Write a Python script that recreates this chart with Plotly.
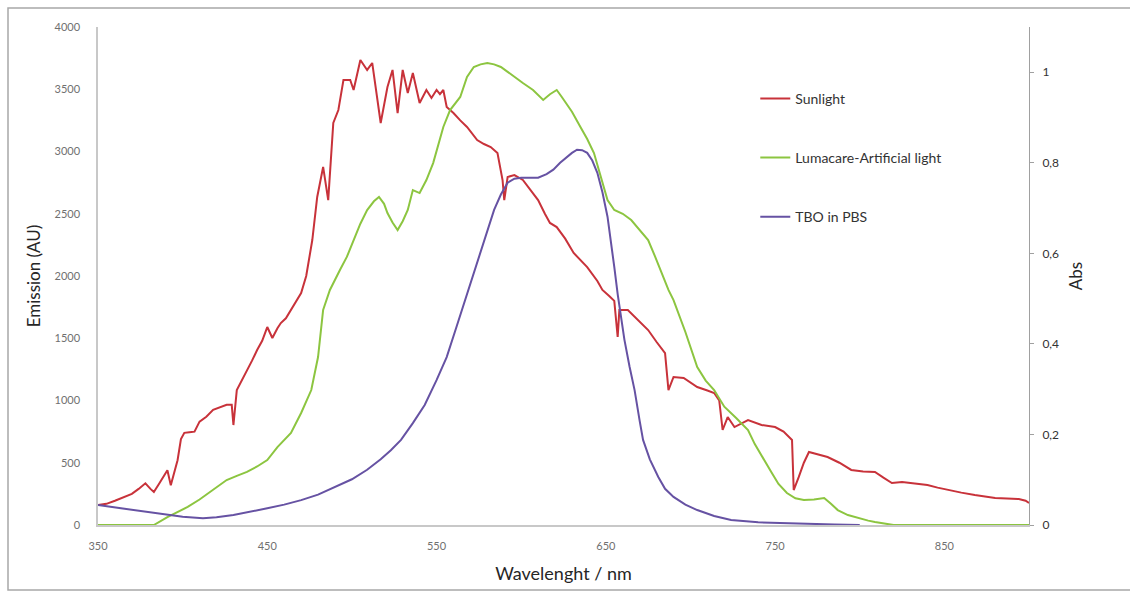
import plotly.graph_objects as go

# ---------------- data ----------------
sun_wl = [350, 355, 360, 365, 370, 374, 378, 381, 383, 386, 389, 391, 393, 395, 397, 399, 401, 404, 407, 410,
          414, 418, 422, 426, 429, 430, 432, 435, 438, 441, 444, 447, 450, 453, 456, 458, 461, 464, 467, 470,
          473, 476.6, 479.5, 483, 486, 489, 492, 495, 499, 501, 505, 509, 512, 517, 521, 524, 527, 530, 533, 536,
          540, 544, 547, 550, 552, 554, 556, 560, 564, 568, 574, 578, 582, 586, 589, 590, 592, 596, 601, 605, 610, 614,
          617, 621, 626, 631, 635, 639, 645, 648, 652, 655, 657, 658, 663, 669, 675, 680, 685, 687, 690, 696,
          704, 710, 714, 717, 719, 722, 726, 734, 742, 750, 755, 760, 761, 764, 767, 770, 775, 781, 788, 795,
          802, 809, 814, 819, 825, 830, 835, 840, 846, 852, 860, 868, 874, 880, 887, 894, 898, 900]
sunlight = [160, 170, 195, 225, 250, 290, 335, 290, 265, 330, 400, 440, 320, 430, 520, 690, 740, 745, 750, 830,
            870, 925, 945, 965, 965, 803, 1084, 1160, 1245, 1320, 1405, 1480, 1590, 1502, 1580, 1622, 1660, 1727, 1790, 1863,
            2000, 2289, 2635, 2876, 2610, 3229, 3333, 3574, 3574, 3494, 3735, 3655, 3711, 3229, 3518, 3655, 3309, 3655, 3470, 3630,
            3390, 3494, 3430, 3494, 3460, 3494, 3357, 3309, 3250, 3197, 3092, 3060, 3036, 2988, 2771, 2610, 2795, 2811, 2771, 2700, 2610, 2500,
            2426, 2393, 2300, 2185, 2130, 2072, 1960, 1888, 1840, 1800, 1510, 1727, 1727, 1650, 1566, 1470, 1381, 1084, 1189, 1181,
            1108, 1080, 1060, 1000, 763, 867, 787, 843, 803, 787, 750, 683, 281, 386, 500, 586, 570, 546, 500, 442,
            430, 426, 380, 337, 345, 337, 330, 321, 300, 281, 260, 241, 230, 217, 212, 209, 195, 177]

luma_wl = [350, 383, 391, 397, 403, 410, 418, 426, 432, 438, 444, 450, 456, 460, 464, 470, 476, 480, 483, 487,
           489, 493, 497, 501, 505, 509, 513, 516, 519, 521, 524, 527, 530, 533, 536, 540, 544, 548, 551, 554,
           558, 564, 568, 572, 576, 580, 584, 588, 592, 596, 601, 607, 613, 617, 621, 624, 630, 635, 639, 643,
           647, 651, 655, 660, 665, 670, 675, 679, 683, 687, 690, 697, 704, 709, 714, 720, 727, 734, 738, 743,
           748, 752, 757, 762, 767, 773, 779, 783, 787, 793, 799, 805, 809, 815, 820, 900]
lumacare = [0, 0, 64, 105, 145, 205, 281, 361, 395, 426, 470, 522, 626, 680, 739, 900, 1084, 1349, 1727, 1888,
            1944, 2050, 2153, 2289, 2420, 2530, 2600, 2635, 2580, 2506, 2430, 2369, 2440, 2530, 2690, 2666, 2771, 2907, 3050, 3197,
            3333, 3438, 3598, 3679, 3700, 3711, 3700, 3679, 3640, 3598, 3550, 3494, 3414, 3460, 3494, 3438, 3320, 3197, 3100, 2988,
            2800, 2610, 2530, 2500, 2450, 2370, 2289, 2160, 2024, 1888, 1807, 1550, 1269, 1160, 1084, 950, 860, 763, 650, 530,
            420, 330, 257, 215, 201, 205, 217, 170, 120, 80, 56, 35, 24, 8, 0, 0]

tbo_wl = [350, 360, 371, 381, 391, 400, 412, 420, 430, 440, 450, 460, 470, 480, 489, 500, 509, 517, 523, 529,
          536, 543, 550, 556, 562, 568, 572, 576, 580, 584, 588, 592, 596, 600, 605, 610, 615, 619, 623, 627,
          630, 633, 636, 639, 642, 645, 648, 651, 653, 655, 657, 659, 661, 664, 667, 670, 672, 676, 681, 685,
          690, 697, 704, 714, 724, 740, 754, 770, 785, 800]
tbo_abs = [0.044, 0.039, 0.033, 0.027, 0.022, 0.018, 0.015, 0.017, 0.022, 0.029, 0.037, 0.045, 0.055, 0.067, 0.082, 0.101, 0.122, 0.145, 0.165, 0.188,
           0.225, 0.265, 0.320, 0.371, 0.440, 0.510, 0.555, 0.601, 0.650, 0.696, 0.730, 0.756, 0.765, 0.767, 0.767, 0.767, 0.775, 0.785, 0.800, 0.813,
           0.822, 0.829, 0.828, 0.822, 0.805, 0.778, 0.735, 0.681, 0.630, 0.570, 0.510, 0.460, 0.409, 0.350, 0.298, 0.230, 0.188, 0.145, 0.106, 0.080,
           0.062, 0.045, 0.033, 0.020, 0.011, 0.006, 0.004, 0.002, 0.001, 0.000]

x_ticks = [350, 450, 550, 650, 750, 850]
y_ticks = [0, 500, 1000, 1500, 2000, 2500, 3000, 3500, 4000]
y2_ticks = [0, 0.2, 0.4, 0.6, 0.8, 1.0]

RED = "#c8323a"
GREEN = "#8cc540"
PURPLE = "#6652a3"
FONT = "Lato, 'Open Sans', sans-serif"

fig = go.Figure()
fig.add_trace(go.Scatter(x=sun_wl, y=sunlight, mode="lines", name="Sunlight",
                         line=dict(color=RED, width=2), legendgroup="a"))
fig.add_trace(go.Scatter(x=luma_wl, y=lumacare, mode="lines", name="Lumacare-Artificial light",
                         line=dict(color=GREEN, width=2), legendgroup="b"))
fig.add_trace(go.Scatter(x=tbo_wl, y=tbo_abs, mode="lines", name="TBO in PBS", yaxis="y2",
                         line=dict(color=PURPLE, width=2), legendgroup="c"))

fig.update_layout(
    width=1130, height=593,
    margin=dict(l=98, r=101, t=27, b=68),
    paper_bgcolor="white", plot_bgcolor="white",
    separators=",.",
    font=dict(family=FONT, color="#404040"),
    showlegend=True,
    legend=dict(x=0.706, y=0.888, xanchor="left", yanchor="top",
                font=dict(size=14, color="#333333"), tracegroupgap=38,
                itemwidth=30, bgcolor="rgba(0,0,0,0)"),
    xaxis=dict(range=[350, 900], tickvals=x_ticks, showgrid=False, zeroline=False,
               showline=True, linecolor="#c8c8c8", linewidth=1.5, ticks="",
               tickfont=dict(size=11, color="#707070"), ticklabelstandoff=10,
               title=dict(text="Wavelenght / nm", font=dict(size=18, color="#262626"), standoff=16)),
    yaxis=dict(range=[0, 4000], tickvals=y_ticks, showgrid=False, zeroline=False,
               showline=True, linecolor="#c8c8c8", linewidth=1.5, ticks="",
               tickfont=dict(size=11, color="#707070"), ticklabelstandoff=14,
               title=dict(text="Emission (AU)", font=dict(size=17, color="#262626"), standoff=10)),
    yaxis2=dict(range=[0, 1.1], tickvals=y2_ticks, overlaying="y", side="right",
                showgrid=False, zeroline=False, showline=True, linecolor="#a0a0a0", linewidth=1,
                ticks="outside", ticklen=4, tickcolor="#a0a0a0",
                tickfont=dict(size=12, color="#333333"), ticklabelstandoff=6,
                title=dict(text="Abs", font=dict(size=17, color="#262626"), standoff=12)),
    shapes=[dict(type="rect", xref="paper", yref="paper",
                 x0=-90 / 931, x1=1098 / 931, y0=-65 / 498, y1=517 / 498,
                 line=dict(color="#a8a8a8", width=1.5), layer="below")],
)

fig.write_html("out.html")
